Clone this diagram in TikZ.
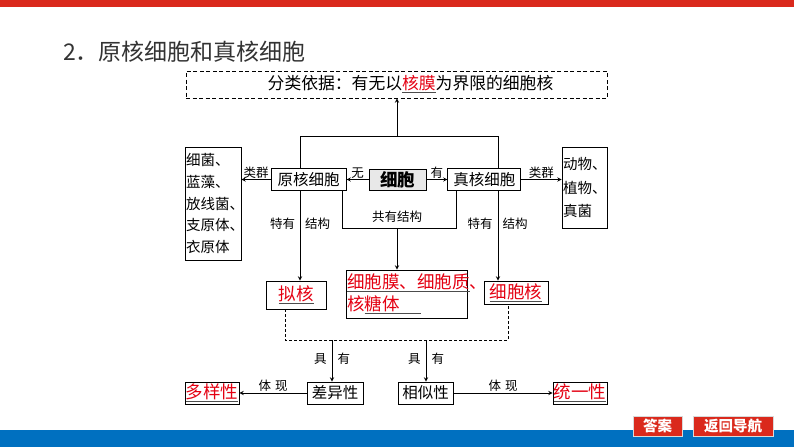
\documentclass[tikz,border=0pt]{standalone}
\usepackage{fontspec}
\setmainfont{Noto Sans CJK SC}
\usepackage{tikz}
\usetikzlibrary{arrows,positioning,backgrounds}
\usepackage{xcolor}
\definecolor{keyred}{RGB}{228,0,18}
\definecolor{barred}{RGB}{218,41,28}
\definecolor{barblue}{RGB}{0,112,192}
\definecolor{cellgray}{RGB}{232,232,232}
\newcommand{\pxfont}[1]{\fontsize{#1}{#1}\selectfont}
\newcommand{\keyterm}[1]{\textcolor{black!70}{\underline{\textcolor{keyred}{#1}}}}

\begin{document}
\begin{tikzpicture}[x=1pt, y=-1pt, >=stealth,
    comp/.style={rectangle, draw, fill=white, line width=0.9pt, inner sep=0pt, font=\pxfont{15.5}},
    keybox/.style={comp, font=\pxfont{17.5}},
    listbox/.style={comp, align=left, inner xsep=1pt},
    tag/.style={font=\pxfont{12.5}, inner sep=1pt},
    arrow/.style={->, line width=0.9pt},
    link/.style={line width=0.9pt},
    button/.style={rectangle, fill=barred, draw=white!70!gray, line width=0.6pt, text=white, font=\pxfont{14.5}\bfseries, minimum height=20pt, inner sep=0pt}
  ]
    \useasboundingbox (0,0) rectangle (794,447);
    \fill[barred] (0,0) rectangle (794,7);
    \fill[barblue] (0,430) rectangle (794,447);

    \node[anchor=west, font=\pxfont{23}, text=black!80, inner sep=0pt] (title) at (63,52) {2．原核细胞和真核细胞};
    \node[draw, dash pattern=on 4pt off 2.5pt, line width=0.9pt, minimum width=421pt, minimum height=27pt] (basis) at (396.5,84.5) {};
    \node[font=\pxfont{16.8}, inner sep=0pt] (basistext) at (410.5,84.5) {分类依据：有无以\keyterm{核膜}为界限的细胞核};

    \node[comp, fill=cellgray, minimum width=57pt, minimum height=21pt, font=\pxfont{17.5}\bfseries] (cell) at (397.5,179.5) {细胞};
    \node[comp, minimum width=75pt, minimum height=22pt, left=22pt of cell] (prok) {原核细胞};
    \node[comp, minimum width=73pt, minimum height=22pt, right=21pt of cell] (euk) {真核细胞};
    \node[listbox, minimum width=56pt, minimum height=113pt, text width=54pt, font=\fontsize{14.5}{21.7}\selectfont] (prokgroup) at (213,203.5) {细菌、\\蓝藻、\\放线菌、\\支原体、\\衣原体};
    \node[listbox, minimum width=45pt, minimum height=81pt, text width=43pt, font=\fontsize{14.5}{23.5}\selectfont] (eukgroup) at (584.5,187.5) {动物、\\植物、\\真菌};

    \node[keybox, minimum width=60pt, minimum height=28pt] (nucleoid) at (296,295) {\keyterm{拟核}};
    \node[comp, minimum width=121pt, minimum height=48pt] (shared) at (406.5,294) {};
    \node[anchor=west, align=left, inner sep=0pt, font=\fontsize{17.5}{22}\selectfont] (sharedtext) at (347,294) {\keyterm{细胞膜、细胞质}\textcolor{keyred}{、}\\\textcolor{keyred}{核}\keyterm{糖体\hspace{1.2em}}};
    \node[keybox, minimum width=64pt, minimum height=23pt] (nucleus) at (516,292.5) {\keyterm{细胞核}};

    \node[keybox, minimum width=54pt, minimum height=22pt] (diversity) at (212,393) {\keyterm{多样性}};
    \node[comp, minimum width=56pt, minimum height=22pt] (difference) at (335,393) {差异性};
    \node[comp, minimum width=55pt, minimum height=22pt] (similarity) at (425.5,393) {相似性};
    \node[keybox, minimum width=54pt, minimum height=22pt] (unity) at (580,393) {\keyterm{统一性}};

    \node[button, minimum width=49pt] (answer) at (657.5,426) {答案};
    \node[button, minimum width=80pt] (backnav) at (733,426) {返回导航};

    % junction points of the connector tree
    \coordinate (topL) at (300,136);
    \coordinate (topM) at (397,136);
    \coordinate (topR) at (498,136);
    \coordinate (sharedL) at (342,228);
    \coordinate (sharedM) at (397,228);
    \coordinate (sharedR) at (456,228);
    \coordinate (dashL) at (285,340);
    \coordinate (dashR) at (508,340);
    \coordinate (dashA) at (332,340);
    \coordinate (dashB) at (426,340);

    \begin{scope}[on background layer]
      \draw[link] (topL) -- (topR);
      \draw[arrow] (topL) -- (topL |- nucleoid.north);
      \draw[arrow] (topR) -- (topR |- nucleus.north);
    \end{scope}
    \draw[arrow] (topM) -- (topM |- basis.south);
    \draw[arrow] (cell) -- node[tag, above] {无} (prok);
    \draw[arrow] (cell) -- node[tag, above] {有} (euk);
    \draw[arrow] (prok) -- node[tag, above] {类群} (prok -| prokgroup.east);
    \draw[arrow] (euk) -- node[tag, above] {类群} (euk -| eukgroup.west);
    \node[tag] (prokown) at (300,224) {特有\hspace{10pt}结构};
    \node[tag] (eukown) at (497.5,224) {特有\hspace{10pt}结构};

    \draw[link] (sharedL |- prok.south) -- (sharedL) -- (sharedR) -- (sharedR |- euk.south);
    \node[tag] (sharedlabel) at (397,217) {共有结构};
    \draw[arrow] (sharedM) -- (sharedM |- shared.north);

    \draw[link, dash pattern=on 3pt off 2pt] (dashL |- nucleoid.south) -- (dashL) -- (dashR) -- (dashR |- nucleus.south);
    \draw[arrow] (dashA) -- (dashA |- difference.north);
    \draw[arrow] (dashB) -- (dashB |- similarity.north);
    \node[tag] (havediff) at (332,359) {具\hspace{11pt}有};
    \node[tag] (havesim) at (426,359) {具\hspace{11pt}有};
    \draw[arrow] (difference) -- node[tag, above] {体\hspace{4pt}现} (diversity);
    \draw[arrow] (similarity) -- node[tag, above] {体\hspace{4pt}现} (unity);
  \end{tikzpicture}
\end{document}
